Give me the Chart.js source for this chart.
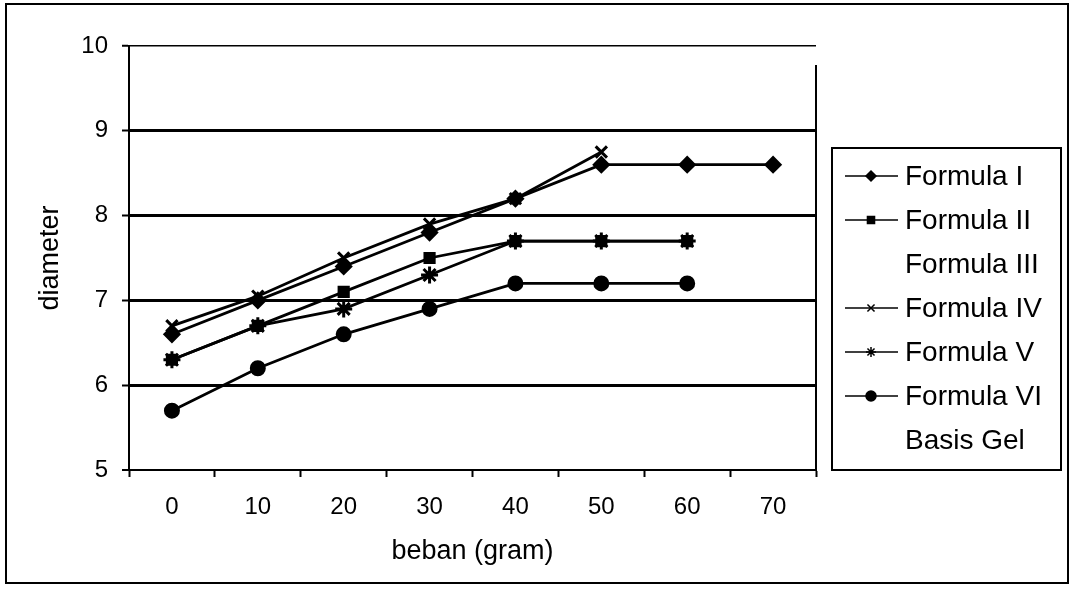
<!DOCTYPE html>
<html>
<head>
<meta charset="utf-8">
<script src="https://cdn.jsdelivr.net/npm/chart.js@4"></script>
<style>
  body { margin: 0; background: #fff; }
  canvas { display: block; }
</style>
</head>
<body>
<canvas id="chart" width="1074" height="591"></canvas>
<script>
// data
const beban = ['0', '10', '20', '30', '40', '50', '60', '70'];
const formulaI = [6.6, 7.0, 7.4, 7.8, 8.2, 8.6, 8.6, 8.6];
const formulaII = [6.3, 6.7, 7.1, 7.5, 7.7, 7.7, 7.7];
const formulaIII = [];
const formulaIV = [6.7, 7.05, 7.5, 7.9, 8.2, 8.75];
const formulaV = [6.3, 6.7, 6.9, 7.3, 7.7, 7.7, 7.7];
const formulaVI = [5.7, 6.2, 6.6, 6.9, 7.2, 7.2, 7.2];
const basisGel = [];
const yTicks = [5, 6, 7, 8, 9, 10];

const FONT = "'Liberation Sans', Arial, sans-serif";

function series(label, data, style, radius) {
    return {
        label: label,
        data: data,
        borderColor: '#000',
        backgroundColor: '#000',
        borderWidth: 2.8,
        pointStyle: style,
        pointRadius: radius,
        pointBorderWidth: 3,
        pointHoverRadius: radius,
        tension: 0,
        fill: false,
        showLine: style !== false
    };
}

// outer frame, right plot edge and the boxed legend
const framePlugin = {
    id: 'frame',
    afterDraw(chart) {
        const ctx = chart.ctx;
        const area = chart.chartArea;
        ctx.save();
        ctx.strokeStyle = '#000';
        ctx.lineWidth = 2;
        ctx.strokeRect(6, 4, 1062, 579);
        ctx.beginPath();
        ctx.moveTo(area.right, area.top + 19);
        ctx.lineTo(area.right, area.bottom);
        ctx.stroke();

        // legend
        ctx.strokeRect(832, 148, 229, 322);
        ctx.font = '28px ' + FONT;
        ctx.textBaseline = 'middle';
        ctx.fillStyle = '#000';
        chart.data.datasets.forEach((ds, i) => {
            const y = 176 + i * 44;
            if (ds.pointStyle !== false) {
                ctx.lineWidth = 1.5;
                ctx.beginPath();
                ctx.moveTo(845, y);
                ctx.lineTo(898, y);
                ctx.stroke();
                Chart.helpers.drawPoint(ctx, {
                    pointStyle: ds.pointStyle,
                    radius: 5,
                    rotation: 0,
                    borderWidth: 1.5
                }, 871, y);
                ctx.fill();
            }
            ctx.fillText(ds.label, 905, y + 1);
        });
        ctx.restore();
    }
};

new Chart(document.getElementById('chart'), {
    type: 'line',
    data: {
        labels: beban,
        datasets: [
            series('Formula I', formulaI, 'rectRot', 7),
            series('Formula II', formulaII, 'rect', 6.5),
            series('Formula III', formulaIII, false, 0),
            series('Formula IV', formulaIV, 'crossRot', 8),
            series('Formula V', formulaV, 'star', 8.5),
            series('Formula VI', formulaVI, 'circle', 6.5),
            series('Basis Gel', basisGel, false, 0)
        ]
    },
    options: {
        responsive: false,
        animation: false,
        layout: { padding: { left: 0, right: 258, top: 46, bottom: 0 } },
        plugins: {
            legend: { display: false },
            tooltip: { enabled: false }
        },
        scales: {
            x: {
                type: 'category',
                offset: true,
                grid: {
                    offset: true,
                    drawOnChartArea: false,
                    drawTicks: true,
                    tickLength: 7,
                    tickWidth: 2,
                    tickColor: '#000'
                },
                border: { display: true, color: '#000', width: 2 },
                ticks: {
                    color: '#000',
                    font: { family: FONT, size: 24 },
                    padding: 16,
                    maxRotation: 0
                },
                title: {
                    display: true,
                    text: 'beban (gram)',
                    color: '#000',
                    font: { family: FONT, size: 27 },
                    padding: { top: 0, bottom: 23 }
                },
                afterFit(scale) { scale.height = 121; }
            },
            y: {
                min: 5,
                max: 10,
                afterBuildTicks(scale) {
                    scale.ticks = yTicks.map(v => ({ value: v }));
                },
                grid: {
                    color: '#000',
                    lineWidth: c => (c.tick && c.tick.value === 10 ? 1.5 : (c.tick && c.tick.value === 5 ? 0 : 3)),
                    drawTicks: true,
                    tickLength: 7,
                    tickWidth: 2,
                    tickColor: '#000'
                },
                border: { display: true, color: '#000', width: 2 },
                ticks: {
                    color: '#000',
                    font: { family: FONT, size: 24 },
                    padding: 14
                },
                title: {
                    display: true,
                    text: 'diameter',
                    color: '#000',
                    font: { family: FONT, size: 27 },
                    padding: { top: 34, bottom: 0 }
                },
                afterFit(scale) { scale.width = 129; }
            }
        }
    },
    plugins: [framePlugin]
});
</script>
</body>
</html>
